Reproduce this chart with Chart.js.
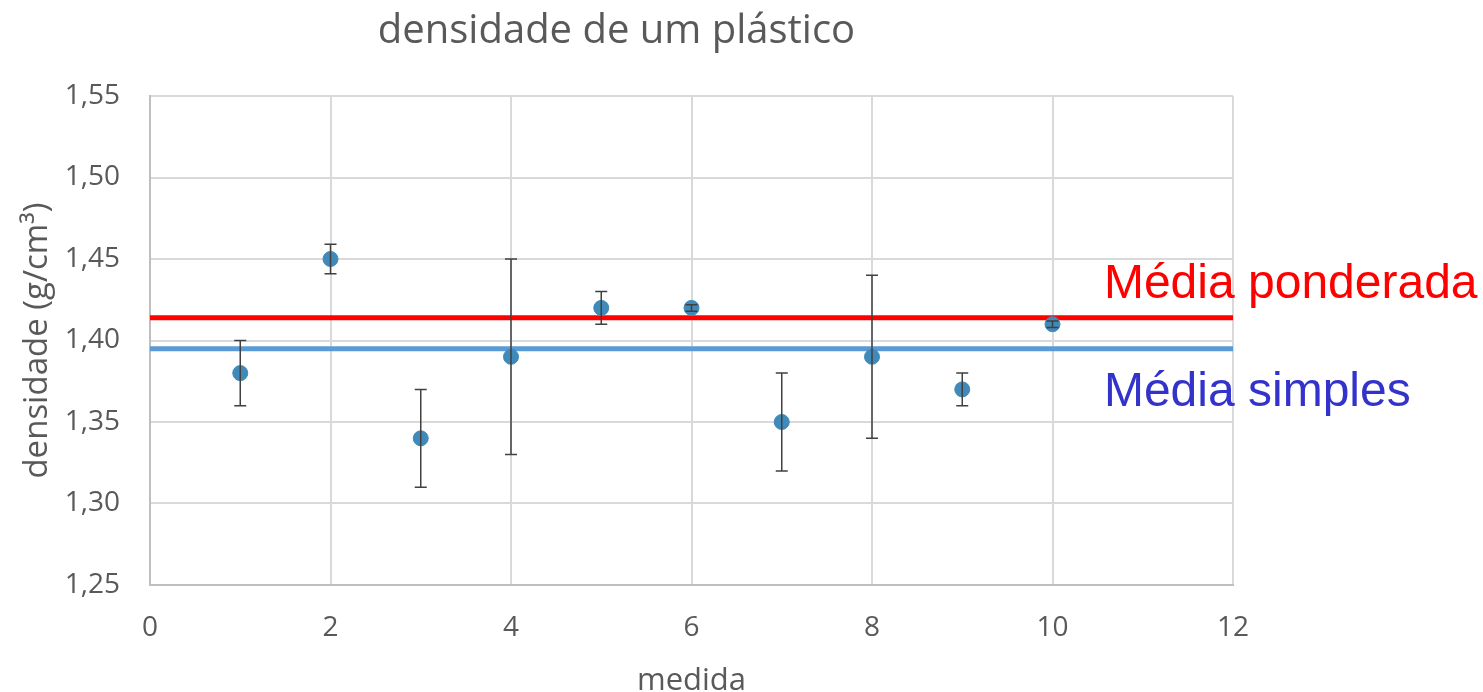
<!DOCTYPE html>
<html>
<head>
<meta charset="utf-8">
<script src="https://cdn.jsdelivr.net/npm/chart.js"></script>
<style>
  html, body { margin: 0; padding: 0; background: #fff; }
  #wrap { width: 1483px; height: 692px; position: relative; }
</style>
</head>
<body>
<div id="wrap"><canvas id="chart"></canvas></div>
<script>
// measurements
const medida = [1, 2, 3, 4, 5, 6, 7, 8, 9, 10];
const densidade = [1.38, 1.45, 1.34, 1.39, 1.42, 1.42, 1.35, 1.39, 1.37, 1.41];
const erro = [0.02, 0.009, 0.03, 0.06, 0.01, 0.002, 0.03, 0.05, 0.01, 0.002];

// averages
const mediaPonderada = 1.414;
const mediaSimples = 1.395;
const xRange = [0, 12];

const fontFamily = '"Open Sans", "Noto Sans", sans-serif';
const gray = '#595959';

const errorBars = {
    id: 'errorBars',
    afterDatasetsDraw(chart) {
        const { ctx, scales: { x, y } } = chart;
        ctx.save();
        ctx.strokeStyle = '#404040';
        ctx.lineWidth = 1.5;
        medida.forEach((m, i) => {
            const px = x.getPixelForValue(m);
            const top = y.getPixelForValue(densidade[i] + erro[i]);
            const bot = y.getPixelForValue(densidade[i] - erro[i]);
            ctx.beginPath();
            ctx.moveTo(px, top); ctx.lineTo(px, bot);
            ctx.moveTo(px - 6, top); ctx.lineTo(px + 6, top);
            ctx.moveTo(px - 6, bot); ctx.lineTo(px + 6, bot);
            ctx.stroke();
        });
        ctx.restore();
    }
};

const lineLabels = {
    id: 'lineLabels',
    afterDraw(chart) {
        const { ctx, scales: { x, y } } = chart;
        ctx.save();
        ctx.font = '48px "Liberation Sans", Arial, sans-serif';
        ctx.textAlign = 'left';
        ctx.textBaseline = 'alphabetic';
        ctx.fillStyle = '#ff0000';
        ctx.fillText('Média ponderada', x.getPixelForValue(10.57), y.getPixelForValue(mediaPonderada) - 20);
        ctx.fillStyle = '#3333cc';
        ctx.fillText('Média simples', x.getPixelForValue(10.57), y.getPixelForValue(mediaSimples) + 57);
        ctx.restore();
    }
};

new Chart(document.getElementById('chart'), {
    type: 'scatter',
    data: {
        datasets: [
            {
                label: 'densidade',
                data: medida.map((m, i) => ({ x: m, y: densidade[i] })),
                backgroundColor: '#3f8ab8',
                borderColor: '#3f8ab8',
                pointRadius: 7.5,
                order: 1
            },
            {
                label: 'Média ponderada',
                type: 'line',
                data: xRange.map(v => ({ x: v, y: mediaPonderada })),
                borderColor: '#ff0000',
                borderWidth: 5,
                pointRadius: 0,
                order: 2
            },
            {
                label: 'Média simples',
                type: 'line',
                data: xRange.map(v => ({ x: v, y: mediaSimples })),
                borderColor: '#5b9bd5',
                borderWidth: 5,
                pointRadius: 0,
                order: 3
            }
        ]
    },
    options: {
        responsive: true,
        maintainAspectRatio: false,
        animation: false,
        layout: { padding: { top: 0, right: 250, left: 0, bottom: 0 } },
        plugins: {
            legend: { display: false },
            tooltip: { enabled: false },
            title: {
                display: true,
                text: 'densidade de um plástico',
                color: gray,
                font: { family: fontFamily, size: 40, weight: 'normal' },
                padding: { top: 8, bottom: 40 }
            }
        },
        scales: {
            x: {
                type: 'linear',
                min: 0,
                max: 12,
                ticks: { stepSize: 2, color: gray, font: { family: fontFamily, size: 28 }, padding: 26 },
                grid: { color: '#d9d9d9', lineWidth: 2, drawTicks: false },
                border: { color: '#bfbfbf', width: 2 },
                title: { display: true, text: 'medida', color: gray, font: { family: fontFamily, size: 31, lineHeight: 0.42 }, padding: { top: 10 } },
                afterFit: s => { s.height = 107; }
            },
            y: {
                min: 1.25,
                max: 1.55,
                ticks: {
                    stepSize: 0.05,
                    color: gray,
                    font: { family: fontFamily, size: 28 },
                    padding: 30,
                    callback: v => v.toFixed(2).replace('.', ',')
                },
                grid: { color: '#d9d9d9', lineWidth: 2, drawTicks: false },
                border: { color: '#bfbfbf', width: 2 },
                title: { display: true, text: 'densidade (g/cm³)', color: gray, font: { family: fontFamily, size: 33 }, padding: { top: 18, bottom: 0 } },
                afterFit: s => { s.width = 150; }
            }
        }
    },
    plugins: [errorBars, lineLabels]
});
</script>
</body>
</html>
